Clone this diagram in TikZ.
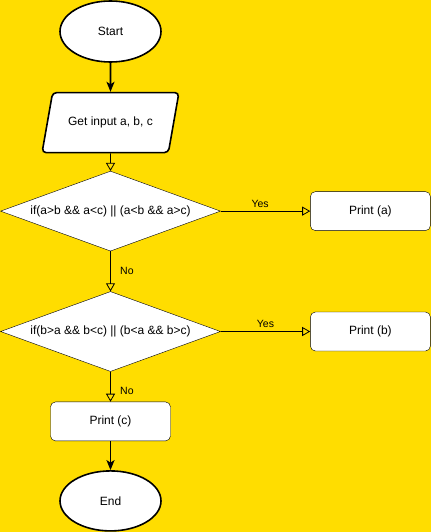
\documentclass[tikz,border=0pt]{standalone}
\usepackage{xcolor}
\usepackage{fontspec}
\setmainfont{Liberation Sans}
\usepackage{tikz}
\usetikzlibrary{arrows.meta,positioning,shapes.geometric}

\definecolor{bgyellow}{HTML}{FFDD00}

\begin{document}
\begin{tikzpicture}[node distance=30pt, auto]
    % Styles
    \tikzstyle{startstop} = [ellipse, draw, line width=1.6pt, fill=white, minimum width=101pt, minimum height=61pt, font=\fontsize{12pt}{14pt}\selectfont]
    \tikzstyle{io} = [trapezium, trapezium left angle=65, trapezium right angle=115, trapezium stretches=true, draw, line width=1.6pt, fill=white, rounded corners=4pt, minimum width=137pt, minimum height=60pt, font=\fontsize{12pt}{14pt}\selectfont]
    \tikzstyle{decision} = [diamond, draw, fill=white, aspect=2.78, inner sep=1pt, minimum width=220pt, minimum height=80pt, font=\fontsize{12pt}{14pt}\selectfont]
    \tikzstyle{block} = [rectangle, draw, fill=white, rounded corners=5pt, minimum width=120pt, minimum height=39pt, font=\fontsize{12pt}{14pt}\selectfont]
    \tikzstyle{arrow} = [line width=1.6pt, -{Stealth[length=10pt, width=8pt, inset=2.5pt]}]
    \tikzstyle{openarrow} = [line width=0.8pt, -{Triangle[open, length=8pt, width=9pt]}]
    \tikzstyle{lbl} = [font=\fontsize{10.5pt}{12pt}\selectfont]

    % Background
    \fill[bgyellow] (0,0) rectangle (431pt,-532pt);
    \useasboundingbox (0,0) rectangle (431pt,-532pt);

    % Nodes
    \node [startstop] (start) at (110.5pt,-31.5pt) {Start};
    \node [io, below=29pt of start] (input) {Get input a, b, c};
    \node [decision, below=17.5pt of input] (check1) {if(a>b \&\& a<c) || (a<b \&\& a>c)};
    \node [block, right=89.5pt of check1] (printa) {Print (a)};
    \node [decision, below=40pt of check1] (check2) {if(b>a \&\& b<c) || (b<a \&\& b>c)};
    \node [block, right=89.5pt of check2] (printb) {Print (b)};
    \node [block, below=30pt of check2] (printc) {Print (c)};
    \node [startstop, below=29pt of printc, minimum height=60pt] (stop) {End};

    % Connections
    \draw[arrow] (start) -- (input);
    \draw[openarrow] (input) -- (check1);
    \draw[openarrow] (check1.east) -- node[lbl, above, pos=0.44] {Yes} (printa.west);
    \draw[openarrow] (check1.south) -- node[lbl, right=6pt] {No} (check2.north);
    \draw[openarrow] (check2.east) -- node[lbl, above, pos=0.5] {Yes} (printb.west);
    \draw[openarrow] (check2.south) -- node[lbl, right=6pt, pos=0.65] {No} (printc.north);
    \draw[arrow] (printc) -- (stop);
\end{tikzpicture}
\end{document}
